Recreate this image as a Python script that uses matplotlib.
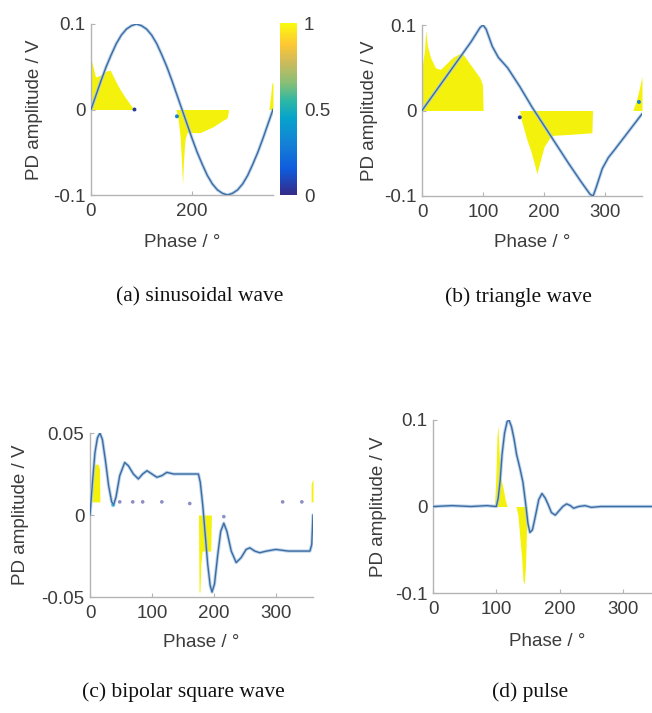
import matplotlib.pyplot as plt
import numpy as np
from matplotlib.colors import LinearSegmentedColormap, Normalize
from matplotlib.cm import ScalarMappable

plt.rcParams['font.family'] = ['Liberation Sans', 'DejaVu Sans']

# ---- data ----------------------------------------------------------------
# (a) sinusoidal wave, applied voltage
sin_phase = [0, 10, 20, 30, 40, 50, 60, 70, 80, 90, 100, 110, 120, 130, 140,
             150, 160, 170, 180, 190, 200, 210, 220, 230, 240, 250, 260, 270,
             280, 290, 300, 310, 320, 330, 340, 350, 360]
sin_amp = [0, 0.017, 0.034, 0.05, 0.064, 0.077, 0.087, 0.094, 0.098, 0.1,
           0.098, 0.094, 0.087, 0.077, 0.064, 0.05, 0.034, 0.017, 0,
           -0.017, -0.034, -0.05, -0.064, -0.077, -0.087, -0.094, -0.098, -0.1,
           -0.098, -0.094, -0.087, -0.077, -0.064, -0.05, -0.034, -0.017, 0]
# PD pattern envelopes (yellow)
a_pos_phase = [0, 0.5, 4, 9, 18, 30, 38, 48, 57, 68, 80, 84, 85]
a_pos_amp = [0, 0.058, 0.05, 0.038, 0.04, 0.045, 0.046, 0.034, 0.024, 0.014, 0.004, 0.001, 0]
a_neg_phase = [168, 172, 176, 179, 181, 183, 186, 190, 216, 242, 260, 269, 271, 272]
a_neg_amp = [0, -0.01, -0.03, -0.06, -0.088, -0.06, -0.035, -0.027, -0.027, -0.02, -0.013, -0.01, -0.005, 0]
a_end_phase = [352, 356, 358, 360]
a_end_amp = [0, 0.02, 0.032, 0.03]

# (b) triangle wave
tri_phase = [0, 20, 40, 60, 80, 95, 100, 105, 115, 125, 140, 160, 180, 200,
             220, 240, 260, 275, 280, 285, 295, 305, 315, 330, 345, 360]
tri_amp = [0, 0.02, 0.04, 0.06, 0.08, 0.097, 0.1, 0.095, 0.075, 0.062, 0.05,
           0.028, 0.004, -0.018, -0.04, -0.062, -0.083, -0.098, -0.1, -0.09,
           -0.068, -0.055, -0.046, -0.032, -0.018, -0.004]
b_pos_phase = [0, 4, 6, 9, 14, 22, 30, 40, 50, 60, 66, 75, 85, 95, 99, 100]
b_pos_amp = [0.05, 0.07, 0.094, 0.075, 0.062, 0.05, 0.048, 0.055, 0.062, 0.066,
             0.067, 0.058, 0.048, 0.038, 0.03, 0]
b_neg_phase = [160, 162, 166, 172, 177, 183, 188, 193, 200, 208, 215, 240, 260, 278, 279]
b_neg_amp = [0, -0.01, -0.02, -0.035, -0.045, -0.06, -0.074, -0.06, -0.042,
             -0.033, -0.029, -0.028, -0.027, -0.026, 0]
b_end_phase = [345, 352, 357, 360]
b_end_amp = [0, 0.015, 0.03, 0.04]

# (c) bipolar square wave
sq_phase = [0, 4, 8, 12, 16, 20, 25, 30, 35, 38, 42, 48, 56, 62, 70, 78, 85,
            92, 100, 108, 116, 124, 135, 150, 165, 175, 178, 182, 186, 190, 194,
            197, 201, 206, 211, 216, 221, 228, 236, 244, 252, 258, 266, 274,
            285, 300, 320, 340, 355, 358, 360]
sq_amp = [0, 0.02, 0.038, 0.047, 0.05, 0.046, 0.033, 0.018, 0.008, 0.006,
          0.011, 0.024, 0.032, 0.03, 0.025, 0.022, 0.025, 0.027, 0.025, 0.023,
          0.024, 0.026, 0.025, 0.025, 0.025, 0.025, 0.02, 0.006, -0.012, -0.03,
          -0.043, -0.047, -0.042, -0.025, -0.01, -0.005, -0.01, -0.022, -0.029,
          -0.026, -0.021, -0.02, -0.022, -0.023, -0.022, -0.021, -0.022,
          -0.022, -0.022, -0.018, 0]
c_pos_phase = [3, 5, 8, 13, 15.5, 16]
c_pos_low = [0.008, 0.008, 0.008, 0.008, 0.008, 0.008]
c_pos_top = [0.014, 0.026, 0.031, 0.031, 0.028, 0.009]
c_neg_phase = [175, 176, 177.5, 179, 181, 195, 196]
c_neg_low = [0, -0.047, -0.047, -0.03, -0.022, -0.022, 0]
c_end_phase = [357, 360]
c_end_low = [0.008, 0.008]
c_end_top = [0.019, 0.022]
c_dot_phase = [37, 48, 69, 85, 116, 161, 216, 311, 342]
c_dot_amp = [0.006, 0.008, 0.008, 0.008, 0.008, 0.007, -0.001, 0.008, 0.008]
c_dot_val = [0.45, 0.02, 0.02, 0.02, 0.02, 0.02, 0.05, 0.02, 0.02]

# (d) pulse
pul_phase = [0, 30, 60, 85, 100, 103, 106, 109, 113, 117, 120, 124, 128, 132,
             137, 142, 146, 150, 153, 157, 162, 167, 172, 177, 182, 187, 193,
             199, 205, 211, 217, 222, 230, 240, 250, 265, 290, 360]
pul_amp = [0, 0.001, 0, 0.001, 0, 0.01, 0.03, 0.06, 0.085, 0.098, 0.1, 0.092,
           0.078, 0.06, 0.045, 0.028, 0.005, -0.02, -0.03, -0.027, -0.01, 0.008,
           0.015, 0.01, 0.002, -0.007, -0.01, -0.005, 0, 0.003, 0.001, -0.002,
           0, 0.001, -0.001, 0, 0, 0]
d_pos_phase = [97, 99, 101, 102.5, 104, 106, 108, 111, 114, 117]
d_pos_amp = [0, 0.03, 0.08, 0.094, 0.07, 0.035, 0.03, 0.02, 0.008, 0]
d_neg_phase = [131, 134, 137, 140, 142, 144, 146, 148, 149]
d_neg_amp = [0, -0.01, -0.035, -0.06, -0.085, -0.09, -0.07, -0.02, 0]

captions = ['(a) sinusoidal wave', '(b) triangle wave',
            '(c) bipolar square wave', '(d) pulse']

# ---- styling ---------------------------------------------------------------
parula = LinearSegmentedColormap.from_list('parula', [
    (0.00, '#352a87'), (0.15, '#0f5cdd'), (0.30, '#1481d6'),
    (0.45, '#06a4ca'), (0.55, '#2eb7a4'), (0.65, '#87bf77'),
    (0.78, '#d1bb59'), (0.88, '#fec832'), (1.00, '#f9fb0e')])
YELLOW = '#f4f20c'
TXT = '#3c3c3c'
AXC = '#b4b4b4'
FS = 13.5

W, H = 652, 713
fig = plt.figure(figsize=(W / 100, H / 100), dpi=100)


def px_axes(left, right, top, bottom):
    return fig.add_axes([left / W, 1 - bottom / H, (right - left) / W, (bottom - top) / H])


def style(ax, ylim, yticks, yticklabels, xticks, xlab_off, ylab_x):
    ax.set_xlim(0, 360)
    ax.set_ylim(*ylim)
    ax.set_xticks(xticks)
    ax.set_yticks(yticks)
    ax.set_yticklabels(yticklabels)
    for s in ['top', 'right']:
        ax.spines[s].set_visible(False)
    for s in ['left', 'bottom']:
        ax.spines[s].set_color(AXC)
        ax.spines[s].set_linewidth(1.0)
    ax.tick_params(direction='in', length=3, color=AXC, labelsize=FS,
                   labelcolor=TXT)
    ax.tick_params(axis='x', pad=6)
    ax.tick_params(axis='y', pad=4)
    ax.set_xlabel('Phase / °', fontsize=FS, color=TXT, va='center')
    ax.xaxis.set_label_coords(0.5, xlab_off)
    ax.set_ylabel('PD amplitude / V', fontsize=FS, color=TXT, va='center')
    ax.yaxis.set_label_coords(ylab_x, 0.5)
    ax.patch.set_alpha(0)


def wave(ax, x, y):
    ax.plot(x, y, color='#a9cbe8', lw=2.4, alpha=0.8, zorder=3,
            solid_capstyle='round')
    ax.plot(x, y, color='#3f6aa0', lw=1.0, zorder=4)


# (a)
ax = px_axes(91, 273, 24, 195)
ax.fill_between(a_pos_phase, 0, a_pos_amp, color=YELLOW, lw=0, zorder=2)
ax.fill_between(a_neg_phase, 0, a_neg_amp, color=YELLOW, lw=0, zorder=2)
ax.fill_between(a_end_phase, 0, a_end_amp, color=YELLOW, lw=0, zorder=2)
wave(ax, sin_phase, sin_amp)
ax.scatter([86, 170], [0, -0.008], s=8, c=[parula(0.05), parula(0.3)], zorder=5, lw=0)
style(ax, (-0.1, 0.1), [-0.1, 0, 0.1], ['-0.1', '0', '0.1'], [0, 200],
      -0.275, -0.31)

cax = px_axes(280, 297, 23, 195)
cb = fig.colorbar(ScalarMappable(Normalize(0, 1), parula), cax=cax, ticks=[0, 0.5, 1])
cb.set_ticklabels(['0', '0.5', '1'])
cb.outline.set_visible(False)
cax.tick_params(length=0, labelsize=FS, labelcolor=TXT, pad=5)

# (b)
ax = px_axes(422, 642, 25, 196)
ax.fill_between(b_pos_phase, 0, b_pos_amp, color=YELLOW, lw=0, zorder=2)
ax.fill_between(b_neg_phase, 0, b_neg_amp, color=YELLOW, lw=0, zorder=2)
ax.fill_between(b_end_phase, 0, b_end_amp, color=YELLOW, lw=0, zorder=2)
wave(ax, tri_phase, tri_amp)
ax.scatter([160, 355], [-0.008, 0.01], s=8, c=[parula(0.05), parula(0.3)], zorder=5, lw=0)
style(ax, (-0.1, 0.1), [-0.1, 0, 0.1], ['-0.1', '0', '0.1'], [0, 100, 200, 300],
      -0.27, -0.24)

# (c)
ax = px_axes(90, 313, 433, 597)
ax.fill_between(c_pos_phase, c_pos_low, c_pos_top, color=YELLOW, lw=0, zorder=2)
ax.fill_between(c_neg_phase, 0, c_neg_low, color=YELLOW, lw=0, zorder=2)
ax.fill_between(c_end_phase, c_end_low, c_end_top, color=YELLOW, lw=0, zorder=2)
wave(ax, sq_phase, sq_amp)
ax.scatter(c_dot_phase, c_dot_amp, s=7, c=c_dot_val, cmap=parula, vmin=0, vmax=1,
           alpha=0.55, zorder=5, lw=0)
style(ax, (-0.05, 0.05), [-0.05, 0, 0.05], ['-0.05', '0', '0.05'],
      [0, 100, 200, 300], -0.275, -0.31)

# (d)
ax = px_axes(433, 661, 420, 593)
ax.fill_between(d_pos_phase, 0, d_pos_amp, color=YELLOW, lw=0, zorder=2)
ax.fill_between(d_neg_phase, 0, d_neg_amp, color=YELLOW, lw=0, zorder=2)
wave(ax, pul_phase, pul_amp)
style(ax, (-0.1, 0.1), [-0.1, 0, 0.1], ['-0.1', '0', '0.1'], [0, 100, 200, 300],
      -0.28, -0.24)

# captions
cap_pos = [(200, 297), (518, 297), (183, 692), (530, 692)]
for text, (cx, cy) in zip(captions, cap_pos):
    fig.text(cx / W, 1 - cy / H, text, ha='center', va='center', fontsize=15.5,
             family='Liberation Serif', color='#111111')

fig.savefig('out.png', dpi=100)
